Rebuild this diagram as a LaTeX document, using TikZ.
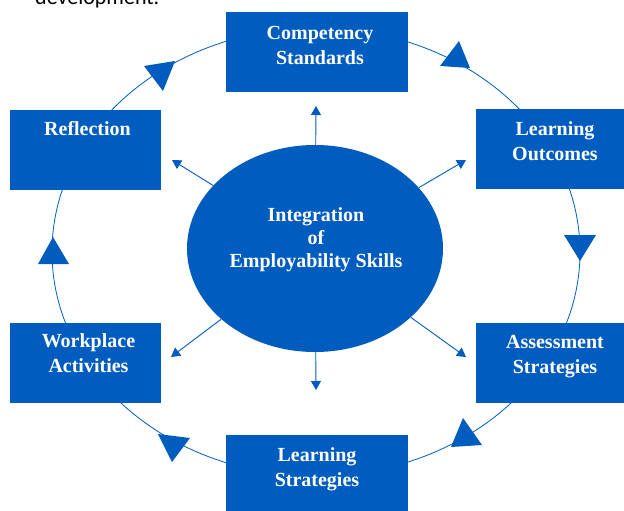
\documentclass[tikz,border=0pt]{standalone}
\usepackage{fontspec}
\newfontfamily\boxfont{Liberation Serif}
\newfontfamily\docfont{Carlito}
\usetikzlibrary{arrows.meta,calc,shapes.geometric}
\definecolor{dblue}{HTML}{005CBF}
\begin{document}
\begin{tikzpicture}[x=1pt,y=-1pt,
  box/.style={draw=none,fill=dblue,minimum width=#1,minimum height=80,inner sep=0},
  boxtext/.style={anchor=north,inner sep=0,text=white,font=\boxfont\bfseries\fontsize{20}{25}\selectfont,align=center},
  coretext/.style={anchor=north,inner sep=0,text=white,font=\boxfont\bfseries\fontsize{20}{23}\selectfont,align=center},
  ring/.style={draw=dblue,line width=0.8pt},
  spoke/.style={draw=dblue,line width=0.9pt,-{Triangle[width=10pt,length=9pt]}},
  tri/.style={fill=dblue}]
\useasboundingbox (0,0) rectangle (624,511);
\clip (0,0) rectangle (624,511);
\node[anchor=base west,inner sep=0,font=\docfont\fontsize{22}{26}\selectfont] (dev) at (35,5) {development.};
% ring
\draw[ring] (316,252) ellipse [x radius=264, y radius=224];
% ring arrowheads
\fill[tri] (144,66) -- (175,61) -- (163,91) -- cycle;
\fill[tri] (459,41) -- (440,66) -- (470,68) -- cycle;
\fill[tri] (564,235) -- (596,235) -- (580,261) -- cycle;
\fill[tri] (463,418) -- (451,447) -- (482,445) -- cycle;
\fill[tri] (158,434) -- (190,438) -- (172,462) -- cycle;
\fill[tri] (53,237) -- (38,264) -- (69,264) -- cycle;
% boxes
\node[box=182] (cs) at (317,52) {};
\node[box=152] (lo) at (552,149) {};
\node[box=152] (as) at (552,362.5) {};
\node[box=182] (ls) at (317,475) {};
\node[box=151] (wa) at (85.5,362.5) {};
\node[box=151] (re) at (85.5,150) {};
\node[boxtext] (cst) at ($(cs.north)+(3,14)$) {Competency\\Standards};
\node[boxtext] (lot) at ($(lo.north)+(3,13)$) {Learning\\Outcomes};
\node[boxtext] (ast) at ($(as.north)+(3,13)$) {Assessment\\Strategies};
\node[boxtext] (lst) at ($(ls.north)+(0,13)$) {Learning\\Strategies};
\node[boxtext] (wat) at ($(wa.north)+(3,11)$) {Workplace\\Activities};
\node[boxtext] (ret) at ($(re.north)+(2,11)$) {Reflection};
% core
\node[ellipse,fill=dblue,minimum width=256,minimum height=207,inner sep=0] (core) at (315,248.5) {};
\node[coretext] (coret) at (316,207) {Integration\\of\\Employability Skills};
% spokes
\coordinate (tu) at (316,106);
\coordinate (tul) at (172,160);
\coordinate (tur) at (466,160);
\coordinate (td) at (316,390);
\coordinate (tdl) at (171,357);
\coordinate (tdr) at (466,357);
\draw[spoke] (core) -- (tu);
\draw[spoke] (core) -- (tul);
\draw[spoke] (core) -- (tur);
\draw[spoke] (core) -- (td);
\draw[spoke] (core) -- (tdl);
\draw[spoke] (core) -- (tdr);
\end{tikzpicture}
\end{document}
